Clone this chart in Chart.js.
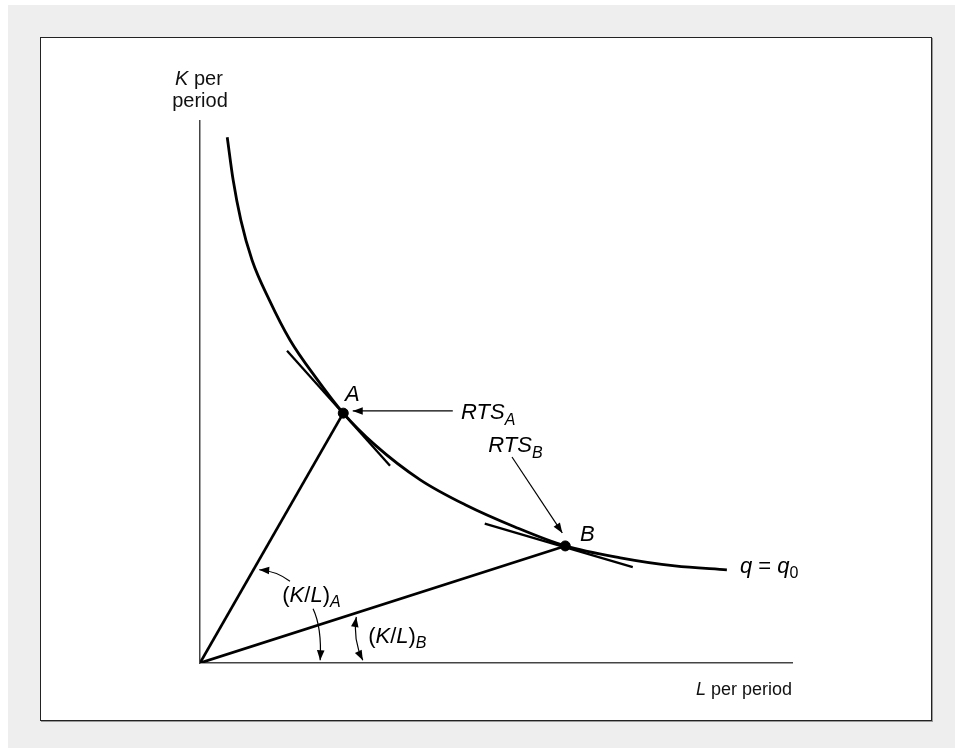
<!DOCTYPE html>
<html><head><meta charset="utf-8">
<script src="https://cdn.jsdelivr.net/npm/chart.js@4.4.1/dist/chart.umd.min.js"></script>
<style>
html,body{margin:0;padding:0;background:#fff;}
#bg{position:absolute;left:8px;top:5px;width:947px;height:743px;background:#eeeeee;}
#box{position:absolute;left:40px;top:37px;width:890px;height:682px;background:#fff;border:1px solid #222;box-shadow:1px 1px 0 #999;}
#wrap{position:absolute;left:0;top:0;width:955px;height:748px;}
</style></head><body>
<div id="bg"></div><div id="box"></div>
<div id="wrap"><canvas id="c" width="955" height="748"></canvas></div>
<script>
// Isoquant q = q0 (L on x, K on y)
const curveL = [0.46, 0.56, 0.69, 0.88, 1.17, 1.52, 1.96, 2.42, 2.96, 3.72, 4.48, 5.32, 6.17, 7.10, 8.02, 8.90];
const curveK = [9.70, 8.91, 8.17, 7.43, 6.70, 5.96, 5.26, 4.61, 4.02, 3.38, 2.92, 2.51, 2.16, 1.94, 1.79, 1.72];
// Points A and B on the isoquant
const pointNames = ['A', 'B'];
const pointL = [2.42, 6.17];
const pointK = [4.61, 2.16];
// Tangent segments (RTS) at A and B
const tangentAL = [1.47, 3.21];
const tangentAK = [5.76, 3.64];
const tangentBL = [4.81, 7.31];
const tangentBK = [2.57, 1.77];

const BLACK = '#000';
const FONT = '"Liberation Sans", Arial, sans-serif';
const FS = 22, SUB = 16;

function pts(xs, ys){ return xs.map((x,i)=>({x:x, y:ys[i]})); }

const datasets = [
  {data: pts(curveL, curveK), borderColor: BLACK, borderWidth: 2.8, pointRadius: 0, showLine: true, cubicInterpolationMode: 'monotone'},
  {data: [{x:0,y:0},{x:pointL[0],y:pointK[0]}], borderColor: BLACK, borderWidth: 2.7, pointRadius: 0, showLine: true},
  {data: [{x:0,y:0},{x:pointL[1],y:pointK[1]}], borderColor: BLACK, borderWidth: 2.7, pointRadius: 0, showLine: true},
  {data: pts(tangentAL, tangentAK), borderColor: BLACK, borderWidth: 2.3, pointRadius: 0, showLine: true},
  {data: pts(tangentBL, tangentBK), borderColor: BLACK, borderWidth: 2.3, pointRadius: 0, showLine: true},
  {data: pts(pointL, pointK), borderColor: BLACK, backgroundColor: BLACK, pointRadius: 5, showLine: false}
];

// Annotation layout (data units)
const arrows = [
  {from:[4.27,4.65], to:[2.58,4.65], w:1.3},
  {from:[5.27,3.80], to:[6.12,2.40], w:1.2},
  {from:[1.52,1.51], ctrl:[1.28,1.70], to:[1.00,1.72], w:1.2},
  {from:[1.91,1.00], ctrl:[2.06,0.65], to:[2.03,0.05], w:1.2},
  {from:[2.64,0.85], ctrl:[2.58,0.42], to:[2.75,0.05], w:1.2, both:true}
];
const labels = [
  {at:[2.45,4.94], parts:[{t:'A',it:1}]},
  {at:[4.41,4.61], parts:[{t:'RTS',it:1},{t:'A',it:1,sub:1}]},
  {at:[4.87,4.00], parts:[{t:'RTS',it:1},{t:'B',it:1,sub:1}]},
  {at:[6.42,2.36], parts:[{t:'B',it:1}]},
  {at:[9.12,1.77], parts:[{t:'q',it:1},{t:' = '},{t:'q',it:1},{t:'0',sub:1}]},
  {at:[1.39,1.24], parts:[{t:'('},{t:'K',it:1},{t:'/'},{t:'L',it:1},{t:')'},{t:'A',it:1,sub:1}]},
  {at:[2.84,0.48], parts:[{t:'('},{t:'K',it:1},{t:'/'},{t:'L',it:1},{t:')'},{t:'B',it:1,sub:1}]}
];

function drawRich(ctx, parts, x, y, align, fs, sfs){
  fs = fs || FS; sfs = sfs || SUB;
  let total = 0;
  const ws = parts.map(p=>{
    ctx.font = (p.it?'italic ':'') + (p.sub?sfs:fs) + 'px ' + FONT;
    const w = ctx.measureText(p.t).width; total += w; return w;
  });
  let cx = align==='right' ? x - total : (align==='center' ? x - total/2 : x);
  parts.forEach((p,i)=>{
    ctx.font = (p.it?'italic ':'') + (p.sub?sfs:fs) + 'px ' + FONT;
    ctx.fillText(p.t, cx, y + (p.sub?7:0));
    cx += ws[i];
  });
}

function head(ctx, tx, ty, fx, fy){
  const a = Math.atan2(ty-fy, tx-fx);
  const L = 10, W = 3.8;
  ctx.beginPath();
  ctx.moveTo(tx, ty);
  ctx.lineTo(tx - L*Math.cos(a) + W*Math.sin(a), ty - L*Math.sin(a) - W*Math.cos(a));
  ctx.lineTo(tx - L*Math.cos(a) - W*Math.sin(a), ty - L*Math.sin(a) + W*Math.cos(a));
  ctx.closePath(); ctx.fill();
}

const annot = {
  id: 'annot',
  afterDatasetsDraw(chart){
    const ctx = chart.ctx, sx = chart.scales.x, sy = chart.scales.y;
    const P = v => [sx.getPixelForValue(v[0]), sy.getPixelForValue(v[1])];
    ctx.save();
    ctx.strokeStyle = BLACK; ctx.fillStyle = BLACK;
    arrows.forEach(a=>{
      const f = P(a.from), t = P(a.to);
      ctx.lineWidth = a.w;
      ctx.beginPath(); ctx.moveTo(f[0], f[1]);
      let c = null;
      if (a.ctrl){ c = P(a.ctrl); ctx.quadraticCurveTo(c[0], c[1], t[0], t[1]); }
      else ctx.lineTo(t[0], t[1]);
      ctx.stroke();
      const back = c || f;
      head(ctx, t[0], t[1], back[0], back[1]);
      if (a.both){ const b2 = c || t; head(ctx, f[0], f[1], b2[0], b2[1]); }
    });
    ctx.textBaseline = 'middle';
    labels.forEach(l=>{ const p = P(l.at); drawRich(ctx, l.parts, p[0], p[1], 'left'); });
    // axis titles
    const ca = chart.chartArea;
    ctx.fillStyle = '#111';
    drawRich(ctx, [{t:'K',it:1},{t:' per'}], ca.left - 1, ca.top - 42, 'center', 20, 14);
    drawRich(ctx, [{t:'period'}], ca.left, ca.top - 20, 'center', 20, 14);
    drawRich(ctx, [{t:'L',it:1},{t:' per period'}], ca.right, ca.bottom + 27, 'right', 18, 13);
    ctx.restore();
  }
};

new Chart(document.getElementById('c'), {
  type: 'scatter',
  data: { datasets },
  options: {
    responsive: false, animation: false,
    layout: { padding: { left: 200, top: 121, right: 163, bottom: 85 } },
    plugins: { legend: { display: false }, tooltip: { enabled: false } },
    scales: {
      x: { type: 'linear', min: 0, max: 10, grid: { display: false }, ticks: { display: false },
           border: { display: true, color: '#444', width: 1.5 }, afterFit: s => { s.height = 0; } },
      y: { type: 'linear', min: 0, max: 10, grid: { display: false }, ticks: { display: false },
           border: { display: true, color: '#444', width: 1.5 }, afterFit: s => { s.width = 0; } }
    }
  },
  plugins: [annot]
});
</script>
</body></html>
